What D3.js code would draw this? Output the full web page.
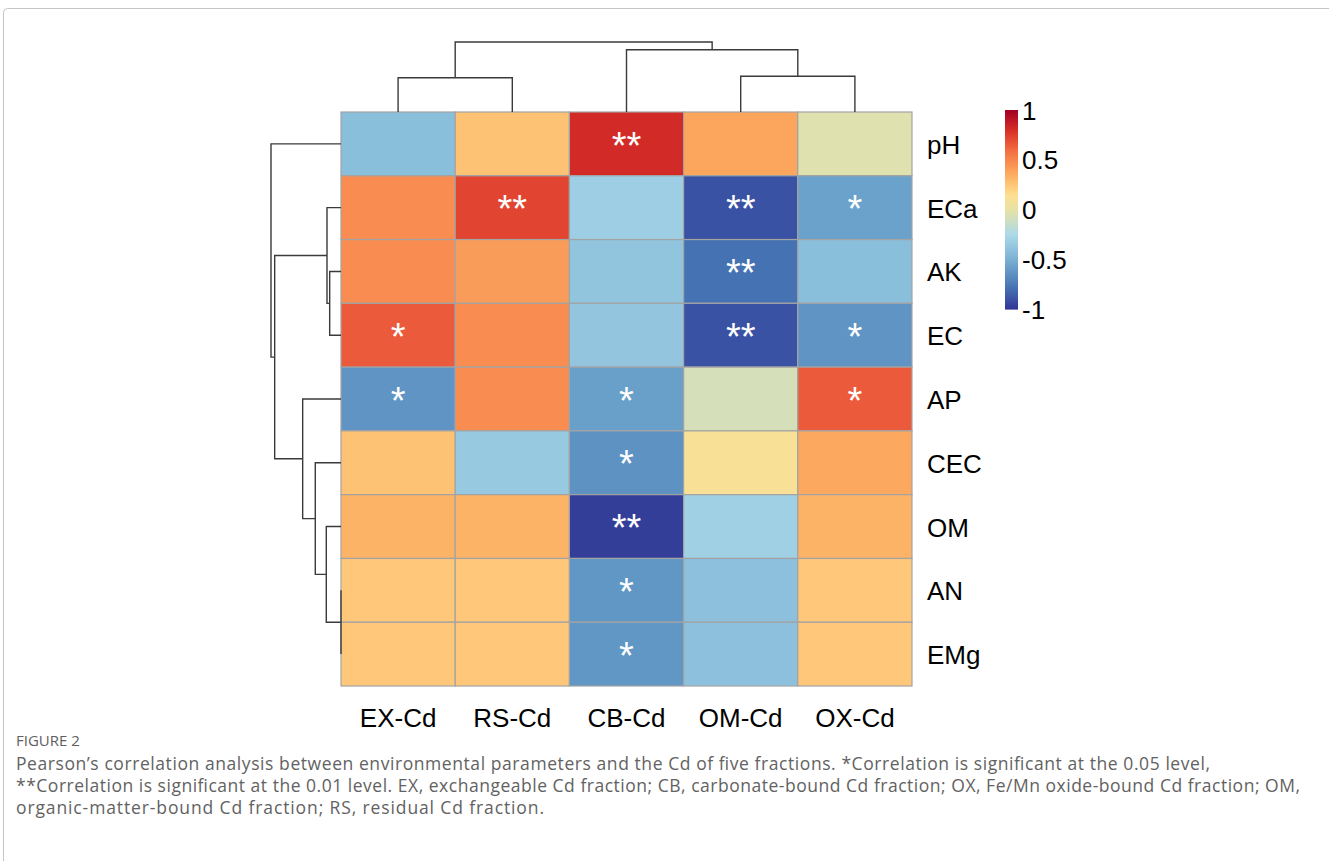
<!DOCTYPE html>
<html>
<head>
<meta charset="utf-8">
<script src="https://cdn.jsdelivr.net/npm/d3@7"></script>
<style>
  html, body { margin: 0; padding: 0; background: #ffffff; }
  svg { display: block; }
</style>
</head>
<body>
<svg id="fig" width="1329" height="861"></svg>
<script>
// Soil parameters (rows) and Cd fractions (columns)
const rowLabels = ["pH", "ECa", "AK", "EC", "AP", "CEC", "OM", "AN", "EMg"];
const colLabels = ["EX-Cd", "RS-Cd", "CB-Cd", "OM-Cd", "OX-Cd"];

// Pearson r for each fraction, in row order
const exCd = [-0.40, 0.48, 0.48, 0.66, -0.61, 0.27, 0.33, 0.25, 0.25];
const rsCd = [0.27, 0.73, 0.42, 0.48, 0.48, -0.34, 0.33, 0.25, 0.25];
const cbCd = [0.82, -0.31, -0.37, -0.36, -0.56, -0.62, -0.97, -0.60, -0.60];
const omCd = [0.38, -0.89, -0.76, -0.89, -0.07, 0.11, -0.30, -0.39, -0.39];
const oxCd = [-0.03, -0.55, -0.40, -0.61, 0.66, 0.37, 0.33, 0.25, 0.25];

// Significance marks (* p<0.05, ** p<0.01)
const exSig = ["", "", "", "*", "*", "", "", "", ""];
const rsSig = ["", "**", "", "", "", "", "", "", ""];
const cbSig = ["**", "", "", "", "*", "*", "**", "*", "*"];
const omSig = ["", "**", "**", "**", "", "", "", "", ""];
const oxSig = ["", "*", "", "*", "*", "", "", "", ""];

// Hierarchical clustering trees: [left, right, height]
const colTree = [["EX-Cd", "RS-Cd", 0.96], ["CB-Cd", ["OM-Cd", "OX-Cd", 1.00], 1.745], 1.96];
const rowTree = ["pH",
  [["ECa", ["AK", "EC", 0.317], 0.392],
   ["AP", ["CEC", ["OM", ["AN", "EMg", 0.0], 0.412], 0.72], 1.073], 1.857],
  1.96];

// Legend ticks
const legendTicks = [1, 0.5, 0, -0.5, -1];
const legendTickLabels = ["1", "0.5", "0", "-0.5", "-1"];

// Diverging palette, blue (-1) to red (+1)
const paletteStops = [-1, -0.75, -0.5, -0.25, 0, 0.15, 0.35, 0.6, 0.8, 1];
const paletteColors = ["#313695", "#4575b4", "#74add1", "#abd9e9", "#e6e2a6",
                       "#fee090", "#fdae61", "#f46d43", "#d73027", "#a50026"];

const seriesValues = [exCd, rsCd, cbCd, omCd, oxCd];
const seriesSig = [exSig, rsSig, cbSig, omSig, oxSig];

const cells = [];
colLabels.forEach((c, j) => {
  rowLabels.forEach((r, i) => {
    cells.push({ row: r, col: c, value: seriesValues[j][i], sig: seriesSig[j][i] });
  });
});

const svg = d3.select("#fig");
const chartFont = "'Liberation Sans', Arial, Helvetica, sans-serif";

// page card outline
svg.append("rect")
  .attr("x", 3.5).attr("y", 8.5)
  .attr("width", 1345).attr("height", 900)
  .attr("rx", 4)
  .attr("fill", "#ffffff")
  .attr("stroke", "#c4c4c4")
  .attr("stroke-width", 1);

const gridLeft = 341, gridTop = 112, gridW = 571, gridH = 574;
const treeSize = 70;

const x = d3.scaleBand().domain(colLabels).range([gridLeft, gridLeft + gridW]);
const y = d3.scaleBand().domain(rowLabels).range([gridTop, gridTop + gridH]);
const color = d3.scaleLinear().domain(paletteStops).range(paletteColors)
  .interpolate(d3.interpolateRgb).clamp(true);

// heatmap cells
svg.append("g").selectAll("rect")
  .data(cells)
  .join("rect")
  .attr("x", d => x(d.col))
  .attr("y", d => y(d.row))
  .attr("width", x.bandwidth())
  .attr("height", y.bandwidth())
  .attr("fill", d => color(d.value))
  .attr("stroke", "#a3a3a3")
  .attr("stroke-width", 1.2);

// significance marks
const starSize = 38;
svg.append("g").selectAll("text")
  .data(cells.filter(d => d.sig))
  .join("text")
  .attr("x", d => x(d.col) + x.bandwidth() / 2)
  .attr("y", d => y(d.row) + y.bandwidth() / 2 + starSize * 0.385)
  .attr("text-anchor", "middle")
  .attr("font-family", chartFont)
  .attr("font-size", starSize)
  .attr("fill", "#ffffff")
  .text(d => d.sig);

// dendrogram drawing: returns {pos, h}
function drawTree(g, node, leafPos, hScale, vertical) {
  if (typeof node === "string") return { pos: leafPos(node), h: 0 };
  const a = drawTree(g, node[0], leafPos, hScale, vertical);
  const b = drawTree(g, node[1], leafPos, hScale, vertical);
  const h = node[2];
  const hp = hScale(h);
  let d;
  if (vertical) {
    d = `M${a.pos},${hScale(a.h)}V${hp}H${b.pos}V${hScale(b.h)}`;
  } else {
    d = `M${hScale(a.h)},${a.pos}H${hp}V${b.pos}H${hScale(b.h)}`;
  }
  g.append("path").attr("d", d)
    .attr("fill", "none").attr("stroke", "#3a3a3a").attr("stroke-width", 1.4);
  return { pos: (a.pos + b.pos) / 2, h: h };
}

const colTreeG = svg.append("g");
const colH = d3.scaleLinear().domain([0, colTree[2]]).range([gridTop, gridTop - treeSize]);
drawTree(colTreeG, colTree, c => x(c) + x.bandwidth() / 2, colH, true);

const rowTreeG = svg.append("g");
const rowH = d3.scaleLinear().domain([0, rowTree[2]]).range([gridLeft, gridLeft - treeSize]);
drawTree(rowTreeG, rowTree, r => y(r) + y.bandwidth() / 2, rowH, false);

// row labels
svg.append("g").selectAll("text")
  .data(rowLabels)
  .join("text")
  .attr("x", 927)
  .attr("y", d => y(d) + y.bandwidth() / 2 + 10)
  .attr("font-family", chartFont)
  .attr("font-size", 26)
  .attr("fill", "#000")
  .text(d => d);

// column labels
svg.append("g").selectAll("text")
  .data(colLabels)
  .join("text")
  .attr("x", d => x(d) + x.bandwidth() / 2)
  .attr("y", 727)
  .attr("text-anchor", "middle")
  .attr("font-family", chartFont)
  .attr("font-size", 26)
  .attr("fill", "#000")
  .text(d => d);

// colour legend
const legX = 1005, legW = 13;
const legY = d3.scaleLinear().domain([-1, 1]).range([309, 110]);
const steps = d3.range(-1, 1, 0.01);
svg.append("g").selectAll("rect")
  .data(steps)
  .join("rect")
  .attr("x", legX)
  .attr("y", d => legY(d + 0.01))
  .attr("width", legW)
  .attr("height", d => legY(d) - legY(d + 0.01) + 0.6)
  .attr("fill", d => color(d + 0.005));

svg.append("g").selectAll("text")
  .data(legendTicks)
  .join("text")
  .attr("x", 1022)
  .attr("y", d => legY(d) + 9.5)
  .attr("font-family", chartFont)
  .attr("font-size", 26)
  .attr("fill", "#000")
  .text((d, i) => legendTickLabels[i]);

// caption
const capFont = "'Open Sans', 'Noto Sans', sans-serif";
svg.append("text")
  .attr("x", 16).attr("y", 746)
  .attr("font-family", capFont)
  .attr("font-size", 15)
  .attr("fill", "#606060")
  .text("FIGURE 2");

const captionLines = [
  "Pearson\u2019s correlation analysis between environmental parameters and the Cd of five fractions. *Correlation is significant at the 0.05 level,",
  "**Correlation is significant at the 0.01 level. EX, exchangeable Cd fraction; CB, carbonate-bound Cd fraction; OX, Fe/Mn oxide-bound Cd fraction; OM,",
  "organic-matter-bound Cd fraction; RS, residual Cd fraction."
];
const captionWidths = [1194, 1284, 528];
svg.append("g").selectAll("text")
  .data(captionLines)
  .join("text")
  .attr("x", 16)
  .attr("y", (d, i) => 770 + i * 22)
  .attr("font-family", capFont)
  .attr("font-size", 17.5)
  .attr("textLength", (d, i) => captionWidths[i])
  .attr("lengthAdjust", "spacing")
  .attr("fill", "#626262")
  .text(d => d);
</script>
</body>
</html>
